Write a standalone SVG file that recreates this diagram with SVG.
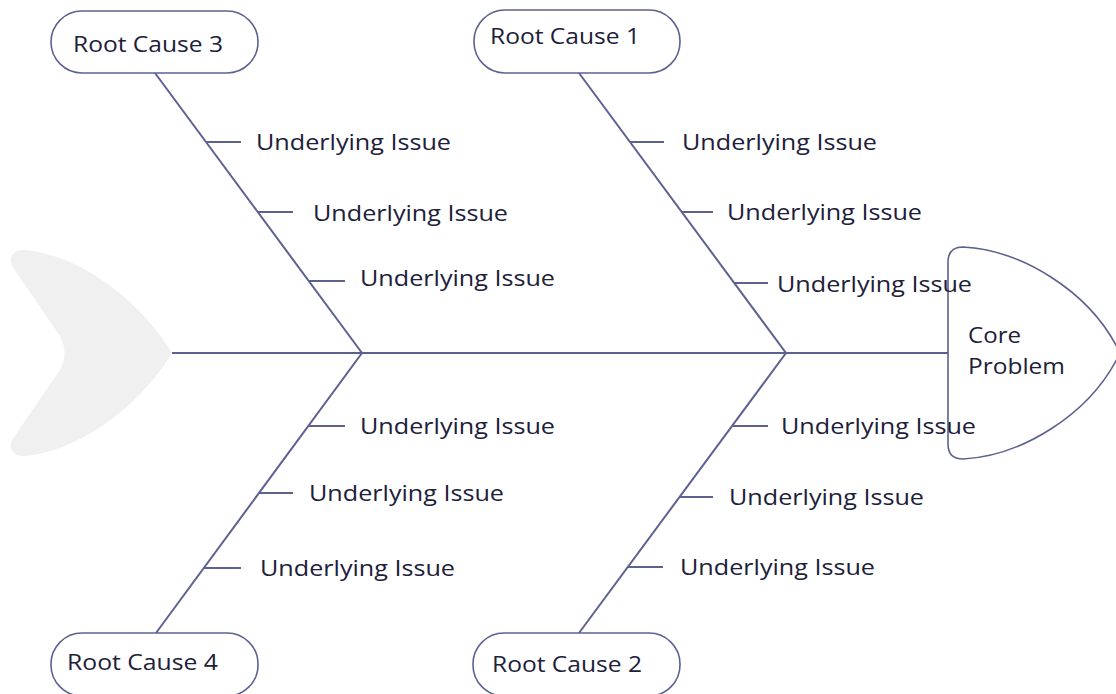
<svg xmlns="http://www.w3.org/2000/svg" width="1116" height="694" viewBox="0 0 1116 694">
<style>
.ln{stroke:#5d6190;stroke-width:2;fill:none;stroke-linecap:butt}
.pill{fill:#ffffff;stroke:#5d6190;stroke-width:1.6}
.t{font-family:"Open Sans","Liberation Sans",sans-serif;font-size:22px;fill:#20203a}
</style>
<rect width="1116" height="694" fill="#ffffff"/>
<g id="tail">
<path d="M25,250 C80,255 140,300 172,353 C140,406 80,451 25,456 C10,457 8,445 14,437 L60,370 C66,360 66,346 60,336 L14,269 C8,261 10,249 25,250 Z" fill="#f0f0f0"/>
</g>
<g id="connectors">
<line class="ln" x1="172" y1="353" x2="948" y2="353"/>
<line class="ln" x1="155" y1="73" x2="362" y2="353"/>
<line class="ln" x1="579" y1="73" x2="786" y2="353"/>
<line class="ln" x1="362" y1="353" x2="156" y2="633"/>
<line class="ln" x1="786" y1="353" x2="579" y2="633"/>
<line class="ln" x1="207" y1="142" x2="241" y2="142"/>
<line class="ln" x1="258" y1="212" x2="293" y2="212"/>
<line class="ln" x1="309" y1="281" x2="345" y2="281"/>
<line class="ln" x1="630" y1="142" x2="664" y2="142"/>
<line class="ln" x1="682" y1="212" x2="713" y2="212"/>
<line class="ln" x1="734" y1="283" x2="768" y2="283"/>
<line class="ln" x1="308" y1="426" x2="345" y2="426"/>
<line class="ln" x1="259" y1="493" x2="293" y2="493"/>
<line class="ln" x1="204" y1="568" x2="241" y2="568"/>
<line class="ln" x1="733" y1="426" x2="768" y2="426"/>
<line class="ln" x1="680" y1="497" x2="713" y2="497"/>
<line class="ln" x1="628" y1="567" x2="663" y2="567"/>
</g>
<g id="core-problem">
<path d="M948,262 Q948,247 963,247 C1020,250 1090,290 1120,353 C1090,416 1020,456 963,459 Q948,459 948,444 Z" class="pill"/>
<text class="t" x="968" y="343" textLength="53" lengthAdjust="spacingAndGlyphs">Core</text>
<text class="t" x="968" y="374" textLength="97" lengthAdjust="spacingAndGlyphs">Problem</text>
</g>
<g id="root-cause-3">
<rect class="pill" x="51" y="11" width="207" height="62" rx="31"/>
<text class="t" x="73" y="52" textLength="150" lengthAdjust="spacingAndGlyphs">Root Cause 3</text>
</g>
<g id="root-cause-1">
<rect class="pill" x="474" y="10" width="206" height="63" rx="31"/>
<text class="t" x="490" y="44" textLength="150" lengthAdjust="spacingAndGlyphs">Root Cause 1</text>
</g>
<g id="root-cause-4">
<rect class="pill" x="51" y="633" width="207" height="63" rx="31"/>
<text class="t" x="67" y="670" textLength="151" lengthAdjust="spacingAndGlyphs">Root Cause 4</text>
</g>
<g id="root-cause-2">
<rect class="pill" x="473" y="633" width="207" height="63" rx="31"/>
<text class="t" x="492" y="672" textLength="150" lengthAdjust="spacingAndGlyphs">Root Cause 2</text>
</g>
<g id="issues">
<text class="t" x="256" y="150" textLength="195" lengthAdjust="spacingAndGlyphs">Underlying Issue</text>
<text class="t" x="313" y="221" textLength="195" lengthAdjust="spacingAndGlyphs">Underlying Issue</text>
<text class="t" x="360" y="286" textLength="195" lengthAdjust="spacingAndGlyphs">Underlying Issue</text>
<text class="t" x="682" y="150" textLength="195" lengthAdjust="spacingAndGlyphs">Underlying Issue</text>
<text class="t" x="727" y="220" textLength="195" lengthAdjust="spacingAndGlyphs">Underlying Issue</text>
<text class="t" x="777" y="292" textLength="195" lengthAdjust="spacingAndGlyphs">Underlying Issue</text>
<text class="t" x="360" y="434" textLength="195" lengthAdjust="spacingAndGlyphs">Underlying Issue</text>
<text class="t" x="309" y="501" textLength="195" lengthAdjust="spacingAndGlyphs">Underlying Issue</text>
<text class="t" x="260" y="576" textLength="195" lengthAdjust="spacingAndGlyphs">Underlying Issue</text>
<text class="t" x="781" y="434" textLength="195" lengthAdjust="spacingAndGlyphs">Underlying Issue</text>
<text class="t" x="729" y="505" textLength="195" lengthAdjust="spacingAndGlyphs">Underlying Issue</text>
<text class="t" x="680" y="575" textLength="195" lengthAdjust="spacingAndGlyphs">Underlying Issue</text>
</g>
</svg>
